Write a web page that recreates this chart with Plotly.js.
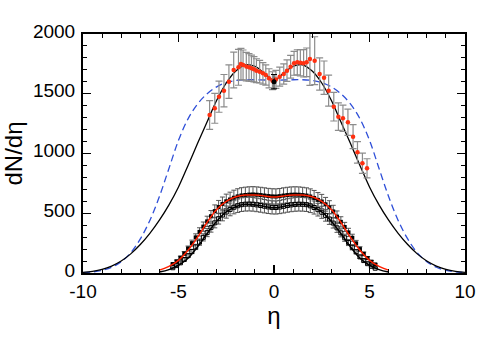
<!DOCTYPE html>
<html>
<head>
<meta charset="utf-8">
<script src="https://cdn.plot.ly/plotly-3.0.1.min.js"></script>
<style>html,body{margin:0;padding:0;background:#fff;}#chart{width:480px;height:339px;}</style>
</head>
<body>
<div id="chart"></div>
<script>
// ---- model curves (eta grid) ----
var curveEta = [-10,-9.5,-9,-8.5,-8,-7.5,-7,-6.5,-6,-5.5,-5,-4.5,-4,-3.5,-3,-2.5,-2,-1.5,-1,-0.5,0,0.5,1,1.5,2,2.5,3,3.5,4,4.5,5,5.5,6,6.5,7,7.5,8,8.5,9,9.5,10];
var blackCurve = [6,14,30,58,100,160,238,332,442,570,720,900,1085,1265,1445,1590,1690,1742,1730,1672,1615,1672,1730,1742,1690,1590,1445,1265,1085,900,720,570,442,332,238,160,100,58,30,14,6];
var blueCurve = [3,9,22,48,95,170,285,440,640,875,1110,1290,1415,1500,1558,1594,1611,1617,1617,1615,1615,1615,1617,1617,1611,1594,1558,1500,1415,1290,1110,875,640,440,285,170,95,48,22,9,3];

// ---- upper data set (red points) ----
var upEta = [-3.37,-3.10,-2.88,-2.62,-2.36,-2.11,-1.86,-1.73,-1.62,-1.45,-1.31,-1.18,-1.05,-0.92,-0.75,-0.58,-0.43,-0.26,-0.08,0.10,0.30,0.51,0.68,0.87,1.05,1.22,1.38,1.55,1.71,1.88,2.13,2.39,2.62,2.86,3.13,3.37,3.61,3.87,4.14,4.37,4.63,4.87];
var upVal = [1322,1378,1475,1526,1601,1699,1721,1749,1741,1727,1721,1713,1705,1693,1685,1671,1657,1629,1609,1620,1643,1665,1693,1726,1755,1763,1760,1755,1763,1790,1777,1665,1634,1526,1392,1308,1294,1261,1141,1010,918,876];
var upErr = [120,125,130,135,140,150,150,130,125,120,115,110,105,100,95,90,85,80,75,75,80,85,90,95,100,105,110,115,120,220,200,135,140,130,120,115,110,110,100,90,85,80];
var centerEta = [0];
var centerVal = [1601];
var centerErr = [60];

// ---- lower data sets ----
var lowEta = [-5.3,-5.1,-4.9,-4.7,-4.5,-4.3,-4.1,-3.9,-3.7,-3.5,-3.3,-3.1,-2.9,-2.7,-2.5,-2.3,-2.1,-1.9,-1.7,-1.5,-1.3,-1.1,-0.9,-0.7,-0.5,-0.3,-0.1,0.1,0.3,0.5,0.7,0.9,1.1,1.3,1.5,1.7,1.9,2.1,2.3,2.5,2.7,2.9,3.1,3.3,3.5,3.7,3.9,4.1,4.3,4.5,4.7,4.9,5.1,5.3];
var setA = [75,98,128,163,205,250,298,344,388,432,475,518,552,578,600,615,630,641,649,653,656,657,655,652,648,644,641,640,643,648,652,655,656,655,652,648,640,628,612,598,575,550,515,472,428,385,340,295,248,200,160,125,95,72];
var setB = [44,62,85,113,145,180,218,258,298,338,380,420,455,485,510,532,550,563,572,576,577,575,570,565,559,553,549,548,552,558,565,570,574,576,575,572,562,548,530,508,482,452,418,378,336,295,255,215,178,135,104,78,56,40];

var fitEta = [-6,-5.5,-5,-4.5,-4,-3.5,-3,-2.5,-2,-1.5,-1,-0.5,0,0.5,1,1.5,2,2.5,3,3.5,4,4.5,5,5.5,6];
var redFit = [24,55,106,190,300,425,532,600,638,652,652,645,635,645,652,652,638,600,532,425,300,190,106,55,24];
var blackFit = [8,28,65,124,220,330,433,512,555,575,570,557,545,557,570,575,555,512,433,330,220,124,65,28,8];

// ---- tick labels ----
var xTickVals = [-10,-5,0,5,10];
var xTickText = ['-10','-5','0','5','10'];
var yTickVals = [0,500,1000,1500,2000];
var yTickText = ['0','500','1000','1500','2000'];

var traces = [
  {x: curveEta, y: blueCurve, mode:'lines', line:{color:'#2f4fd8', width:1.3, dash:'7px,4px', shape:'spline'}, hoverinfo:'skip'},
  {x: curveEta, y: blackCurve, mode:'lines', line:{color:'#000', width:1.3, shape:'spline'}, hoverinfo:'skip'},
  {x: lowEta, y: setA, mode:'markers', marker:{color:'#000', size:4, symbol:'square'},
   error_y:{type:'percent', value:10, color:'#555', thickness:1, width:2.5}},
  {x: lowEta, y: setB, mode:'markers', marker:{color:'#000', size:4, symbol:'square-open', line:{width:1,color:'#000'}},
   error_y:{type:'percent', value:10, color:'#555', thickness:1, width:2.5}},
  {x: fitEta, y: redFit, mode:'lines', line:{color:'#ff2000', width:1.5, shape:'spline'}},
  {x: fitEta, y: blackFit, mode:'lines', line:{color:'#000', width:1.5, shape:'spline'}},
  {x: upEta, y: upVal, mode:'markers', marker:{color:'#ff3010', size:4.5},
   error_y:{type:'data', array: upErr, color:'#8c8c8c', thickness:1.2, width:3.5}},
  {x: centerEta, y: centerVal, mode:'markers', marker:{color:'#000', size:5},
   error_y:{type:'data', array: centerErr, color:'#000', thickness:1, width:3}}
];

var axisCommon = {
  showgrid:false, zeroline:false, showline:true, linecolor:'#000', linewidth:2,
  mirror:'allticks', ticks:'inside', ticklen:8, tickwidth:1.2, tickcolor:'#000',
  tickfont:{family:'Liberation Sans, Arial, sans-serif', size:19, color:'#000'}
};

var layout = {
  width:480, height:339,
  margin:{l:83, r:15, t:34, b:66},
  paper_bgcolor:'#fff', plot_bgcolor:'#fff',
  showlegend:false,
  xaxis: Object.assign({}, axisCommon, {
    range:[-10,10], tickmode:'array', tickvals:xTickVals, ticktext:xTickText,
    ticklabelstandoff:0,
    minor:{dtick:1, tick0:0, ticklen:4, tickwidth:1, tickcolor:'#000', ticks:'inside'},
    title:{text:'η', font:{family:'Liberation Sans, Arial, sans-serif', size:24, color:'#000'}, standoff:6}
  }),
  yaxis: Object.assign({}, axisCommon, {
    range:[0,2000], tickmode:'array', tickvals:yTickVals, ticktext:yTickText,
    minor:{dtick:100, tick0:0, ticklen:4, tickwidth:1, tickcolor:'#000', ticks:'inside'},
    ticklabelstandoff:2, ticklabelshift:-3,
    title:{text:'dN/dη', font:{family:'Liberation Sans, Arial, sans-serif', size:24, color:'#000'}, standoff:4}
  })
};

Plotly.newPlot('chart', traces, layout, {staticPlot:true, displayModeBar:false});
</script>
</body>
</html>
